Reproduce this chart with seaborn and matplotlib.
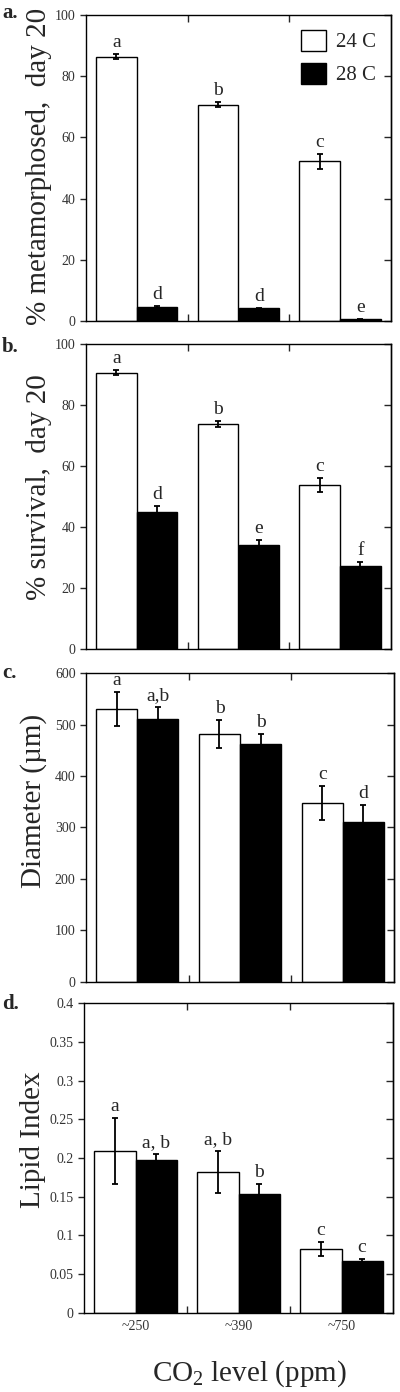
import numpy as np
import pandas as pd
import matplotlib
matplotlib.use("Agg")
import matplotlib.pyplot as plt
import seaborn as sns

# --- data ---
co2 = ['~250', '~390', '~750']
temps = ['24 C', '28 C']

meta_24 = [86.4, 70.7, 52.2]
meta_24_err = [0.8, 0.9, 2.5]
meta_28 = [4.6, 4.1, 0.5]
meta_28_err = [0.3, 0.3, 0.1]
meta_letters_24 = ['a', 'b', 'c']
meta_letters_28 = ['d', 'd', 'e']

surv_24 = [90.6, 73.8, 53.8]
surv_24_err = [0.8, 1.0, 2.3]
surv_28 = [44.9, 34.2, 27.3]
surv_28_err = [2.0, 1.5, 1.3]
surv_letters_24 = ['a', 'b', 'c']
surv_letters_28 = ['d', 'e', 'f']

diam_24 = [531, 482, 347]
diam_24_err = [33, 27, 33]
diam_28 = [510, 462, 311]
diam_28_err = [25, 20, 32]
diam_letters_24 = ['a', 'b', 'c']
diam_letters_28 = ['a,b', 'b', 'd']

lipid_24 = [0.209, 0.1815, 0.0824]
lipid_24_err = [0.043, 0.027, 0.009]
lipid_28 = [0.197, 0.1535, 0.067]
lipid_28_err = [0.008, 0.013, 0.003]
lipid_letters_24 = ['a', 'a, b', 'c']
lipid_letters_28 = ['a, b', 'b', 'c']

sns.set_style('ticks')
plt.rcParams['font.family'] = ['Liberation Serif', 'DejaVu Serif']
plt.rcParams['mathtext.fontset'] = 'custom'
plt.rcParams['mathtext.rm'] = 'Liberation Serif'
plt.rcParams['mathtext.default'] = 'regular'

fig = plt.figure(figsize=(4, 13.92), dpi=100)

# pos = axes rect, lab = ylabel coords (axes fraction)
panels = [
    dict(pos=[0.215, 0.7694, 0.7625, 0.2198], v24=meta_24, e24=meta_24_err, v28=meta_28, e28=meta_28_err,
         l24=meta_letters_24, l28=meta_letters_28, ylim=100, yticks=[0, 20, 40, 60, 80, 100],
         ylabel='% metamorphosed,  day 20', lab=(-0.11, 0.505), tag='a.', tagy=0.998, legend=True),
    dict(pos=[0.215, 0.5335, 0.7625, 0.2193], v24=surv_24, e24=surv_24_err, v28=surv_28, e28=surv_28_err,
         l24=surv_letters_24, l28=surv_letters_28, ylim=100, yticks=[0, 20, 40, 60, 80, 100],
         ylabel='% survival,  day 20', lab=(-0.11, 0.53), tag='b.', tagy=0.758, legend=False),
    dict(pos=[0.215, 0.2948, 0.77, 0.2216], v24=diam_24, e24=diam_24_err, v28=diam_28, e28=diam_28_err,
         l24=diam_letters_24, l28=diam_letters_28, ylim=600, yticks=[0, 100, 200, 300, 400, 500, 600],
         ylabel='Diameter (µm)', lab=(-0.127, 0.586), tag='c.', tagy=0.524, legend=False),
    dict(pos=[0.21, 0.0570, 0.7725, 0.2223], v24=lipid_24, e24=lipid_24_err, v28=lipid_28, e28=lipid_28_err,
         l24=lipid_letters_24, l28=lipid_letters_28, ylim=0.4,
         yticks=[0, 0.05, 0.1, 0.15, 0.2, 0.25, 0.3, 0.35, 0.4],
         ylabel='Lipid Index', lab=(-0.122, 0.558), tag='d.', tagy=0.286, legend=False),
]

for i, p in enumerate(panels):
    ax = fig.add_axes(p['pos'])
    df = pd.DataFrame({
        'co2': co2 + co2,
        'temp': [temps[0]] * 3 + [temps[1]] * 3,
        'value': p['v24'] + p['v28'],
    })
    sns.barplot(data=df, x='co2', y='value', hue='temp', order=co2, hue_order=temps,
                palette={'24 C': 'white', '28 C': 'black'}, edgecolor='black', linewidth=1.0,
                width=0.8, errorbar=None, legend=p['legend'], ax=ax)

    errs = [p['e24'], p['e28']]
    letters = [p['l24'], p['l28']]
    for cont, err, lab in zip(ax.containers, errs, letters):
        xs = [b.get_x() + b.get_width() / 2 for b in cont]
        ys = [b.get_height() for b in cont]
        ax.errorbar(xs, ys, yerr=err, fmt='none', ecolor='black', elinewidth=1.3,
                    capsize=2.5, capthick=1.3, zorder=5)
        for x, y, e, t in zip(xs, ys, err, lab):
            ax.annotate(t, (x, y + e), xytext=(0, 5), textcoords='offset points',
                        ha='center', va='baseline', fontsize=14)

    ax.set_xlim(-0.5, 2.5)
    ax.set_ylim(0, p['ylim'])
    ax.set_yticks(p['yticks'])
    ax.set_yticklabels([f'{t:g}' for t in p['yticks']])
    ax.tick_params(axis='y', direction='out', length=4, width=1, labelsize=10, labelcolor='#333333')
    ax.set_xticks([0.5, 1.5], minor=True)
    ax.tick_params(axis='x', which='minor', direction='in', top=True, bottom=True, length=5, width=1)
    ax.tick_params(axis='x', which='major', length=0, labelsize=10, labelcolor='#333333', pad=5)
    if i < 3:
        ax.set_xticklabels([])
        ax.set_xlabel('')
    else:
        ax.set_xlabel('CO$_2$ level (ppm)', fontsize=21)
        ax.xaxis.set_label_coords(0.534, -0.148)

    right = ax.secondary_yaxis('right')
    right.set_yticks(p['yticks'])
    right.tick_params(direction='in', length=5, width=1, labelright=False)

    for s in ax.spines.values():
        s.set_visible(True)
        s.set_linewidth(1)
        s.set_color('black')
    right.spines['right'].set_linewidth(1)

    ax.set_ylabel(p['ylabel'], fontsize=21)
    ax.yaxis.set_label_coords(*p['lab'])

    if p['legend']:
        sns.move_legend(ax, 'upper right', frameon=False, title=None, fontsize=15,
                        handlelength=1.2, handleheight=1.2, handletextpad=0.5,
                        labelspacing=0.5, borderaxespad=0.3)

    fig.text(0.005, p['tagy'], p['tag'], fontsize=15, fontweight='bold', va='top', ha='left')

fig.savefig('out.png', dpi=100)
